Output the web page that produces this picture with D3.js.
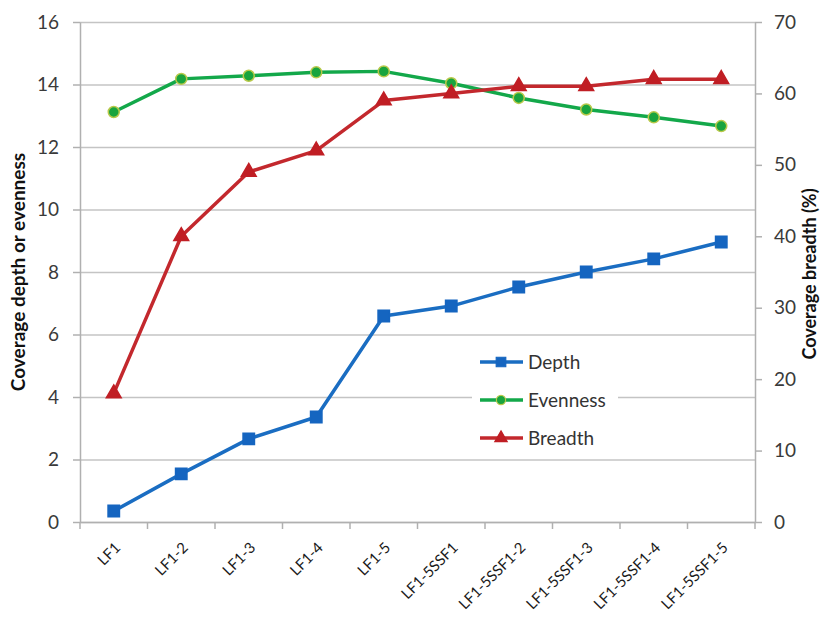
<!DOCTYPE html>
<meta charset="utf-8">
<style>
body { margin: 0; background: #fff; }
text { font-family: Lato, "Open Sans", sans-serif; }
.grid line { stroke: #c4c4c4; stroke-width: 1.3; }
.grid path { stroke-width: 0; }
.axis path, .axis line { stroke: #b0b0b0; stroke-width: 1.5; }
.axis text { fill: #3a3a3a; font-size: 19px; }
.xaxis text { fill: #1a1a1a; font-size: 15px; }
.series { fill: none; stroke-width: 3.5; stroke-linejoin: round; }
</style>
<body>
<script src="https://d3js.org/d3.v7.min.js"></script>
<script>

var categories = ["LF1", "LF1-2", "LF1-3", "LF1-4", "LF1-5", "LF1-5SSF1", "LF1-5SSF1-2", "LF1-5SSF1-3", "LF1-5SSF1-4", "LF1-5SSF1-5"];
var depth    = [0.35, 1.54, 2.66, 3.36, 6.59, 6.91, 7.52, 8.0, 8.42, 8.96];
var evenness = [13.12, 14.18, 14.28, 14.39, 14.42, 14.04, 13.57, 13.2, 12.95, 12.67];
var breadth  = [18, 40, 49, 52, 59, 60, 61, 61, 62, 62];
var leftTicks = [0, 2, 4, 6, 8, 10, 12, 14, 16];
var rightTicks = [0, 10, 20, 30, 40, 50, 60, 70];

var margin = {top: 22, right: 67, bottom: 96, left: 80},
    width = 822 - margin.left - margin.right,
    height = 618 - margin.top - margin.bottom;

var svg = d3.select("body").append("svg")
    .attr("width", 822)
    .attr("height", 618);

var g = svg.append("g")
    .attr("transform", "translate(" + margin.left + "," + margin.top + ")");

var x = d3.scaleBand().domain(categories).range([0, width]);
var yL = d3.scaleLinear().domain([0, 16]).range([height, 0]);
var yR = d3.scaleLinear().domain([0, 70]).range([height, 0]);

// gridlines
g.append("g")
    .attr("class", "grid")
    .call(d3.axisLeft(yL).tickValues(leftTicks).tickSize(-width).tickFormat(""));

// left axis
g.append("g")
    .attr("class", "axis")
    .call(d3.axisLeft(yL).tickValues(leftTicks).tickSize(7).tickPadding(14).tickSizeOuter(0));

// right axis
g.append("g")
    .attr("class", "axis")
    .attr("transform", "translate(" + width + ",0)")
    .call(d3.axisRight(yR).tickValues(rightTicks).tickSize(7).tickPadding(12).tickSizeOuter(0));

// x axis
var xAxis = g.append("g")
    .attr("class", "axis xaxis")
    .attr("transform", "translate(0," + height + ")")
    .call(d3.axisBottom(x).tickSize(0).tickSizeOuter(0));

xAxis.selectAll(".tick text")
    .attr("text-anchor", "end")
    .attr("x", 0)
    .attr("y", 0)
    .attr("dy", "0.35em")
    .attr("transform", "translate(4,23) rotate(-45)");

// x tick marks at category boundaries
var bounds = categories.map(function(c) { return x(c); }).concat([width]);
xAxis.selectAll(".bound")
    .data(bounds)
    .enter().append("line")
    .attr("class", "bound")
    .attr("x1", function(d) { return d; })
    .attr("x2", function(d) { return d; })
    .attr("y1", 0)
    .attr("y2", 7);

// axis titles
g.append("text")
    .attr("transform", "translate(" + (-62) + "," + (height / 2) + ") rotate(-90)")
    .attr("text-anchor", "middle")
    .attr("dy", "0.35em")
    .style("font-size", "19px")
    .style("font-weight", "bold")
    .style("fill", "#111")
    .text("Coverage depth or evenness");

g.append("text")
    .attr("transform", "translate(" + (width + 55) + "," + (height / 2 + 2) + ") rotate(-90)")
    .attr("text-anchor", "middle")
    .attr("dy", "0.35em")
    .style("font-size", "18px")
    .style("font-weight", "bold")
    .style("fill", "#111")
    .text("Coverage breadth (%)");

var cx = function(i) { return x(categories[i]) + x.bandwidth() / 2; };

var series = [
  {name: "Depth", values: depth, scale: yL, color: "#1a6dc2", marker: "square", fill: "#1565c0", edge: "#1565c0"},
  {name: "Evenness", values: evenness, scale: yL, color: "#13a84a", marker: "circle", fill: "#19a43e", edge: "#b9c94a"},
  {name: "Breadth", values: breadth, scale: yR, color: "#c3282d", marker: "triangle", fill: "#c01e24", edge: "#c01e24"}
];

var symbolType = {square: d3.symbolSquare, circle: d3.symbolCircle, triangle: d3.symbolTriangle};
var symbolSize = {square: 130, circle: 95, triangle: 95};

series.forEach(function(s) {
  var line = d3.line()
      .x(function(d, i) { return cx(i); })
      .y(function(d) { return s.scale(d); });

  g.append("path")
      .datum(s.values)
      .attr("class", "series")
      .attr("stroke", s.color)
      .attr("d", line);

  g.selectAll(".m-" + s.name)
      .data(s.values)
      .enter().append("path")
      .attr("class", "m-" + s.name)
      .attr("d", d3.symbol().type(symbolType[s.marker]).size(symbolSize[s.marker]))
      .attr("transform", function(d, i) { return "translate(" + cx(i) + "," + s.scale(d) + ")"; })
      .attr("fill", s.fill)
      .attr("stroke", s.edge)
      .attr("stroke-width", 1.5);
});

// legend
var legend = g.append("g")
    .attr("transform", "translate(" + (392) + "," + (318) + ")");

legend.append("rect")
    .attr("x", 0).attr("y", 0)
    .attr("width", 146).attr("height", 117)
    .attr("fill", "#fff");

series.forEach(function(s, i) {
  var ly = 22 + i * 38;
  legend.append("line")
      .attr("x1", 8).attr("x2", 51)
      .attr("y1", ly).attr("y2", ly)
      .attr("stroke", s.color)
      .attr("stroke-width", 3.5);
  legend.append("path")
      .attr("d", d3.symbol().type(symbolType[s.marker]).size(symbolSize[s.marker] * 0.7))
      .attr("transform", "translate(29," + ly + ")")
      .attr("fill", s.fill)
      .attr("stroke", s.edge)
      .attr("stroke-width", 1.2);
  legend.append("text")
      .attr("x", 56)
      .attr("y", ly)
      .attr("dy", "0.35em")
      .style("font-size", "19px")
      .style("fill", "#333")
      .text(s.name);
});

</script>
</body>
